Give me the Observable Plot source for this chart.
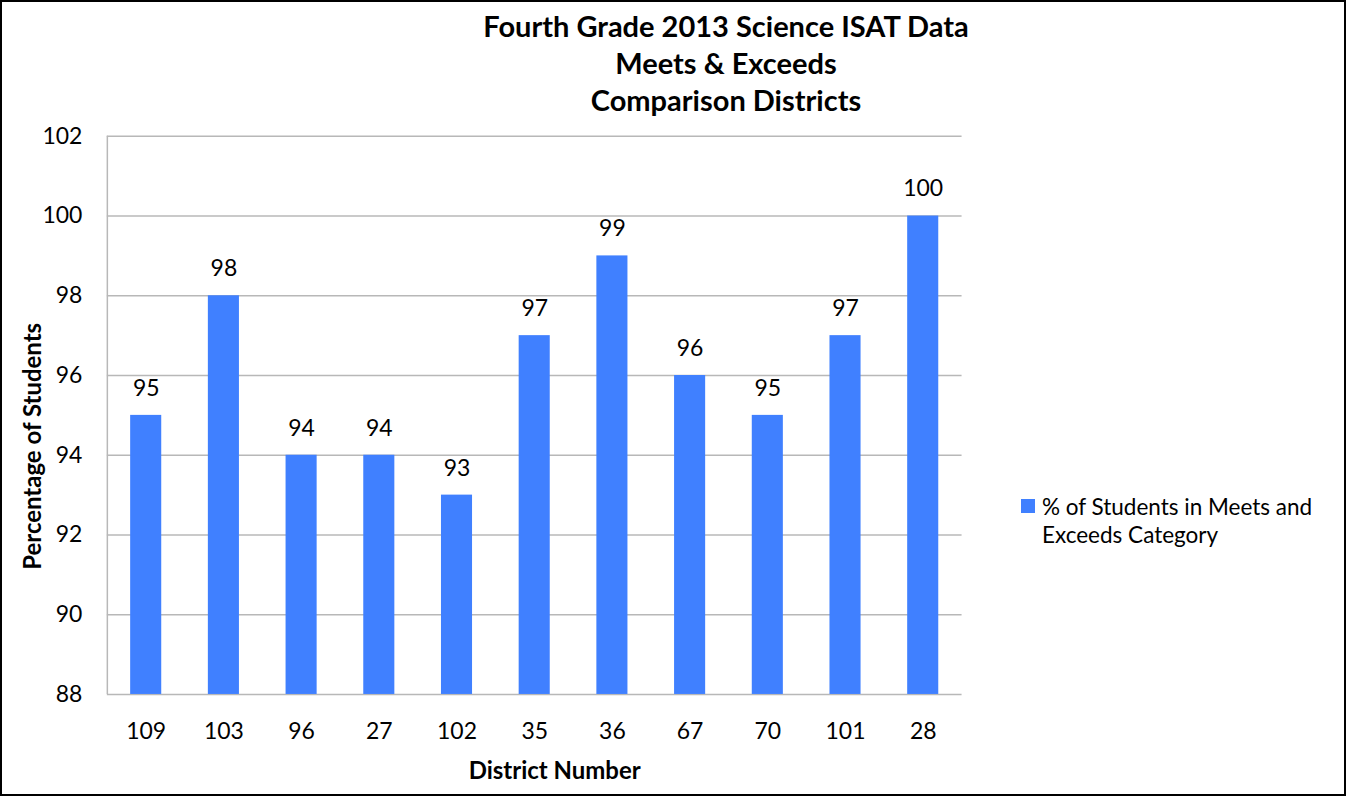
<!DOCTYPE html>
<html><head><meta charset="utf-8">
<script src="https://cdn.jsdelivr.net/npm/d3@7"></script>
<script src="https://cdn.jsdelivr.net/npm/@observablehq/plot@0.6"></script>
<style>
html,body{margin:0;padding:0;background:#fff;}
#wrap{position:relative;width:1346px;height:796px;box-sizing:border-box;border:2px solid #000;font-family:Lato,"Open Sans",sans-serif;overflow:hidden;}
#chart{position:absolute;left:-2px;top:-2px;}
#title{position:absolute;left:374px;width:700px;top:5px;text-align:center;font-weight:bold;font-size:29px;line-height:37px;color:#000;}
#legend{position:absolute;left:1019px;top:491px;font-size:22.5px;line-height:28px;color:#000;}
#legend .sw{position:absolute;left:0;top:6px;width:14px;height:14px;background:#4080FF;}
#legend .tx{margin-left:21px;}
</style></head>
<body>
<div id="wrap">
<div id="chart"></div>
<div id="title">Fourth Grade 2013 Science ISAT Data<br>Meets &amp; Exceeds<br>Comparison Districts</div>
<div id="legend"><div class="sw"></div><div class="tx">% of Students in Meets and<br>Exceeds Category</div></div>
</div>
<script>
const districts = ["109","103","96","27","102","35","36","67","70","101","28"];
const percents = [95,98,94,94,93,97,99,96,95,97,100];
const yTicks = [88,90,92,94,96,98,100,102];

const data = districts.map((d,i)=>({district:d, pct:percents[i]}));
const font = "Lato, 'Open Sans', sans-serif";

const chart = Plot.plot({
  width: 1346, height: 796,
  marginLeft: 107, marginRight: 383, marginTop: 136, marginBottom: 101,
  style: {fontFamily: font, fontSize: "23px", color: "#000", background: "transparent"},
  x: {domain: districts, paddingInner: 0.6, paddingOuter: 0.3, round: false, label: null},
  y: {domain: [88, 102], ticks: yTicks, label: null},
  marks: [
    Plot.ruleY(yTicks, {stroke: "#b8b8b8", strokeWidth: 1.5}),
    Plot.barY(data, {x: "district", y1: 88, y2: "pct", fill: "#4080FF"}),
    Plot.text(data, {x: "district", y: "pct", text: d => String(d.pct), dy: -27, fontSize: 23, fill: "#000"}),
    Plot.axisY({ticks: yTicks, tickSize: 0, tickPadding: 25, fontSize: 23, label: null}),
    Plot.axisX({tickSize: 0, tickPadding: 28, fontSize: 23, label: null}),
    Plot.text(["Percentage of Students"], {frameAnchor: "left", textAnchor: "middle", dx: -74, dy: 31, rotate: -90, fontWeight: "bold", fontSize: 24}),
    Plot.text(["District Number"], {frameAnchor: "bottom", dx: 20, dy: 85, fontWeight: "bold", fontSize: 24})
  ]
});
document.getElementById("chart").appendChild(chart);
const svg = d3.select(chart);
svg.append("line").attr("x1",107.5).attr("x2",107.5).attr("y1",136).attr("y2",695).attr("stroke","#b8b8b8").attr("stroke-width",1.5);
</script>
</body></html>
